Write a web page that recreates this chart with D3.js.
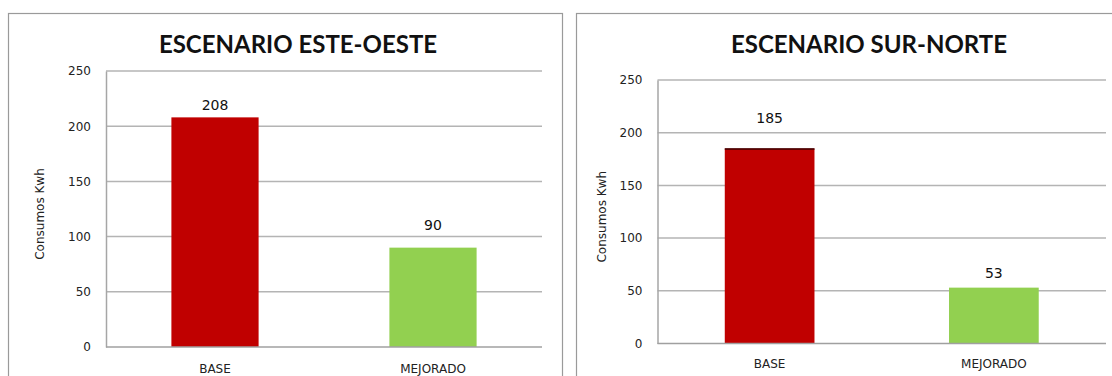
<!DOCTYPE html>
<html>
<head>
<meta charset="utf-8">
<script src="https://cdn.jsdelivr.net/npm/d3@7"></script>
<style>
  body { margin: 0; background: #fff; }
</style>
</head>
<body>
<div id="chart"></div>
<script>
(function(){

    // data
    var categories = ["BASE", "MEJORADO"];
    var titles = ["ESCENARIO ESTE-OESTE", "ESCENARIO SUR-NORTE"];
    var esteOeste = [208, 90];
    var surNorte = [185, 53];
    var yTicks = [0, 50, 100, 150, 200, 250];
    var yLabel = "Consumos Kwh";
    var colors = ["#c00000", "#92d050"];

    var width = 1112, height = 376;
    var svg = d3.select("#chart").append("svg")
        .attr("width", width)
        .attr("height", height);

    // layout of the two panels (pixel positions, not data)
    var panels = [
        {title: titles[0], values: esteOeste, box: [8.5, 13.5, 554, 400],
         x0: 106, x1: 542, yTop: 71, yBot: 347, titleX: 298, yTitleX: 40, catY: 373,
         labelGap: [7, 18], topEdge: false},
        {title: titles[1], values: surNorte, box: [576.5, 13.5, 560, 400],
         x0: 657.5, x1: 1106, yTop: 80, yBot: 343.5, titleX: 869, yTitleX: 602, catY: 368,
         labelGap: [26, 10], topEdge: true}
    ];

    panels.forEach(function(p){
        var g = svg.append("g");

        g.append("rect")
            .attr("x", p.box[0]).attr("y", p.box[1])
            .attr("width", p.box[2]).attr("height", p.box[3])
            .attr("fill", "#fff")
            .attr("stroke", "#9a9a9a")
            .attr("stroke-width", 1.2);

        var x = d3.scaleBand()
            .domain(categories)
            .range([p.x0, p.x1])
            .paddingInner(0.6)
            .paddingOuter(0.3);

        var y = d3.scaleLinear()
            .domain([0, 250])
            .range([p.yBot, p.yTop]);

        // gridlines
        g.append("g")
            .selectAll("line")
            .data(yTicks.slice(1))
            .enter().append("line")
            .attr("x1", p.x0).attr("x2", p.x1)
            .attr("y1", function(d){ return y(d); })
            .attr("y2", function(d){ return y(d); })
            .attr("stroke", "#b4b4b4")
            .attr("stroke-width", 1.5);

        // y axis
        var yAxis = g.append("g")
            .attr("transform", "translate(" + p.x0 + ",0)")
            .call(d3.axisLeft(y).tickValues(yTicks).tickSize(0).tickPadding(15));
        yAxis.select(".domain").attr("stroke", "#a6a6a6").attr("stroke-width", 1.5);
        yAxis.attr("font-family", "DejaVu Sans, sans-serif").attr("font-size", 12);
        yAxis.selectAll("text").attr("fill", "#222");

        // bars
        g.append("g")
            .selectAll("rect")
            .data(p.values)
            .enter().append("rect")
            .attr("x", function(d, i){ return x(categories[i]); })
            .attr("y", function(d){ return y(d); })
            .attr("width", x.bandwidth())
            .attr("height", function(d){ return y(0) - y(d); })
            .attr("fill", function(d, i){ return colors[i]; });

        if (p.topEdge) {
            g.append("line")
                .attr("x1", x(categories[0])).attr("x2", x(categories[0]) + x.bandwidth())
                .attr("y1", y(p.values[0]) + 0.5).attr("y2", y(p.values[0]) + 0.5)
                .attr("stroke", "#3a0000").attr("stroke-width", 1.5);
        }

        // x axis
        var xAxis = g.append("g")
            .attr("transform", "translate(0," + p.yBot + ")")
            .call(d3.axisBottom(x).tickSize(0).tickSizeOuter(0));
        xAxis.select(".domain").attr("stroke", "#a0a0a0").attr("stroke-width", 1.5)
            .attr("d", "M" + p.x0 + ",0H" + p.x1);
        xAxis.selectAll("text").remove();

        g.append("g")
            .selectAll("text")
            .data(categories)
            .enter().append("text")
            .attr("x", function(d){ return x(d) + x.bandwidth() / 2; })
            .attr("y", p.catY)
            .attr("text-anchor", "middle")
            .attr("font-family", "DejaVu Sans, sans-serif")
            .attr("font-size", "12px")
            .attr("fill", "#222")
            .text(function(d){ return d; });

        // value labels
        g.append("g")
            .selectAll("text")
            .data(p.values)
            .enter().append("text")
            .attr("x", function(d, i){ return x(categories[i]) + x.bandwidth() / 2; })
            .attr("y", function(d, i){ return y(d) - p.labelGap[i]; })
            .attr("text-anchor", "middle")
            .attr("font-family", "DejaVu Sans, sans-serif")
            .attr("font-size", "14px")
            .attr("fill", "#111")
            .text(function(d){ return d; });

        // title
        g.append("text")
            .attr("x", p.titleX)
            .attr("y", 53)
            .attr("text-anchor", "middle")
            .attr("font-family", "Lato, sans-serif")
            .attr("font-weight", "bold")
            .attr("font-size", "24px")
            .attr("fill", "#111")
            .text(p.title);

        // y title
        var cy = (p.yTop + p.yBot) / 2 + 5;
        g.append("text")
            .attr("transform", "translate(" + p.yTitleX + "," + cy + ") rotate(-90)")
            .attr("dy", "0.35em")
            .attr("text-anchor", "middle")
            .attr("font-family", "DejaVu Sans, sans-serif")
            .attr("font-size", "12px")
            .attr("fill", "#222")
            .text(yLabel);
    });

})();
</script>
</body>
</html>
